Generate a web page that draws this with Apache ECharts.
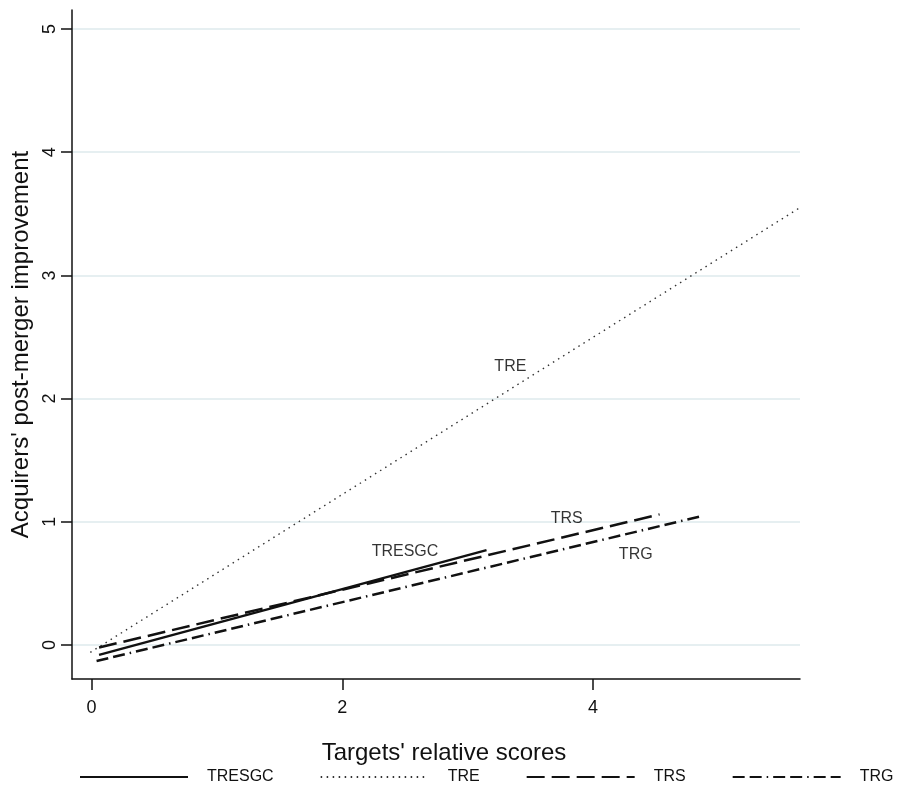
<!DOCTYPE html>
<html>
<head>
<meta charset="utf-8">
<script src="https://cdn.jsdelivr.net/npm/echarts@6/dist/echarts.min.js"></script>
<style>
	html, body { margin: 0; padding: 0; background: #fff; }
	#chart { width: 901px; height: 789px; }
</style>
</head>
<body>
<div id="chart"></div>
<script>
// fitted lines (two end points each)
var seriesNames = ['TRESGC', 'TRE', 'TRS', 'TRG']
var lineX = [
	[0.06, 3.15],
	[-0.01, 5.65],
	[0.06, 4.53],
	[0.04, 4.88],
]
var lineY = [
	[-0.08, 0.77],
	[-0.06, 3.55],
	[-0.02, 1.06],
	[-0.13, 1.05],
]
// in-plot labels
var labelX = [2.5, 3.34, 3.79, 4.34]
var labelY = [0.76, 2.26, 1.03, 0.73]

var xTicks = [0, 2, 4]
var yTicks = [0, 1, 2, 3, 4, 5]

function drawChart() {
	var chartDom = document.getElementById('chart')
	var myChart = echarts.init(chartDom)
	var option

	var dashes = ['solid', [1.5, 4.5], [18, 7], [12, 5, 12, 5, 1.5, 5]]
	var widths = [2.5, 1.4, 2.5, 2.5]
	var colors = ['#111', '#333', '#111', '#111']

	var series = []
	for (var i = 0; i < seriesNames.length; i++) {
		var pts = []
		for (var j = 0; j < lineX[i].length; j++) {
			pts.push([lineX[i][j], lineY[i][j]])
		}
		series.push({
			name: seriesNames[i],
			type: 'line',
			data: pts,
			symbol: 'none',
			showSymbol: false,
			silent: true,
			lineStyle: {
				color: colors[i],
				width: widths[i],
				type: dashes[i],
			},
			itemStyle: { color: colors[i] },
		})
	}

	var labelData = []
	for (var k = 0; k < seriesNames.length; k++) {
		labelData.push({ name: seriesNames[k], value: [labelX[k], labelY[k]] })
	}
	series.push({
		name: 'labels',
		type: 'scatter',
		data: labelData,
		symbolSize: 0,
		silent: true,
		label: {
			show: true,
			position: 'inside',
			formatter: '{b}',
			color: '#000',
			fontSize: 16,
			fontFamily: 'Liberation Sans',
		},
	})

	option = {
		animation: false,
		textStyle: { fontFamily: 'Liberation Sans' },
		grid: {
			left: 72,
			right: 101,
			top: 10,
			bottom: 110,
			containLabel: false,
			outerBoundsMode: 'none',
		},
		legend: {
			data: seriesNames,
			left: 79,
			top: 769,
			width: 860,
			padding: 0,
			itemWidth: 108,
			itemHeight: 14,
			itemGap: 46,
			itemStyle: { opacity: 0 },
			textStyle: {
				fontSize: 16,
				color: '#111',
				padding: [0, 0, 0, 14],
			},
		},
		xAxis: {
			type: 'value',
			min: -0.156,
			max: 5.65,
			name: "Targets' relative scores",
			nameLocation: 'middle',
			nameGap: 62,
			nameTextStyle: {
				fontSize: 24,
				color: '#111',
				padding: [0, 0, 0, 16],
			},
			axisLine: { show: true, onZero: false, lineStyle: { color: '#111', width: 1.5 } },
			axisTick: {
				show: true,
				length: 11,
				customValues: xTicks,
				lineStyle: { color: '#111', width: 1.5 },
			},
			axisLabel: {
				customValues: xTicks,
				fontSize: 18,
				color: '#111',
				margin: 20,
			},
			splitLine: { show: false },
		},
		yAxis: {
			type: 'value',
			min: -0.276,
			max: 5.154,
			name: "Acquirers' post-merger improvement",
			nameLocation: 'middle',
			nameGap: 35,
			nameTextStyle: {
				fontSize: 24,
				color: '#111',
			},
			axisLine: { show: true, onZero: false, lineStyle: { color: '#111', width: 1.5 } },
			axisTick: {
				show: true,
				length: 11,
				customValues: yTicks,
				lineStyle: { color: '#111', width: 1.5 },
			},
			axisLabel: {
				customValues: yTicks,
				fontSize: 18,
				color: '#111',
				rotate: 90,
				margin: 13,
			},
			splitLine: {
				show: true,
				lineStyle: { color: '#e6eff1', width: 2 },
			},
		},
		series: series,
	}

	option && myChart.setOption(option)
}

drawChart()
</script>
</body>
</html>
